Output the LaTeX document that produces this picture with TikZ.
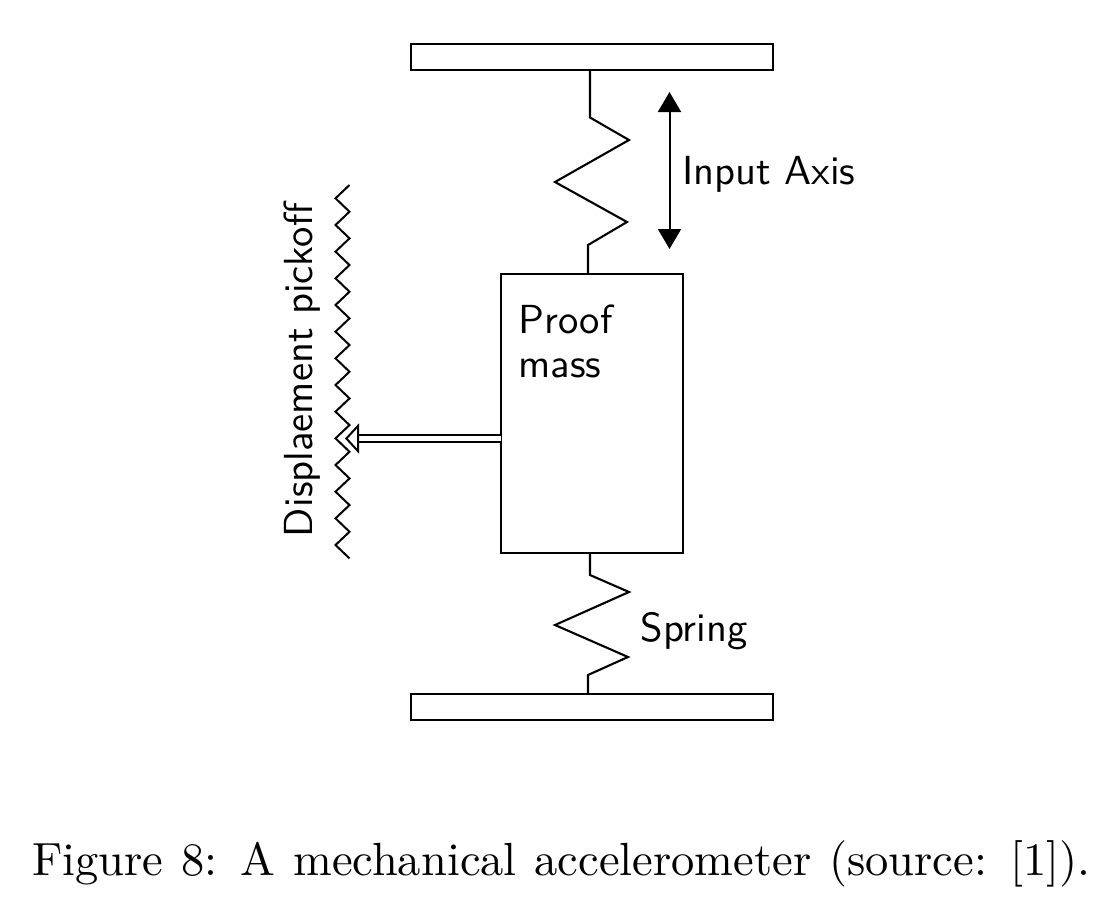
\documentclass[tikz,border=0pt]{standalone}
\usetikzlibrary{arrows.meta}
\tikzset{
  every picture/.style={x=1pt,y=-1pt},
  wire/.style={line width=2.1pt,line join=miter,black},
  plate/.style={draw,line width=2.1pt,inner sep=0pt,outer sep=0pt,minimum width=362pt,minimum height=25.6pt},
  massbox/.style={draw,line width=2.1pt,inner sep=0pt,outer sep=0pt,minimum width=182pt,minimum height=279pt},
  sflabel/.style={inner sep=0pt,outer sep=0pt,scale=4.06,font=\sffamily\fontsize{10}{12}\selectfont},
  captionlabel/.style={inner sep=0pt,outer sep=0pt,scale=4.65,font=\rmfamily\fontsize{10}{12}\selectfont},
  axisarrow/.style={line width=2pt,{Triangle[length=20pt,width=23pt]}-{Triangle[length=20pt,width=23pt]}},
  pickarrow/.style={line width=2pt,double,double distance=4.6pt,-{Triangle[open,length=14pt,width=30pt,line width=2pt]}}
}
\begin{document}
\begin{tikzpicture}
\useasboundingbox (0,0) rectangle (1120,914);
\node[plate] (topplate) at (592,57.2) {};
\node[plate] (botplate) at (592,706.8) {};
\node[massbox] (mass) at (592,413.5) {};
% springs
\draw[wire] ([xshift=-2pt]topplate.south) -- (590,117.5) -- (629,140) -- (555,182) -- (627,222) -- (588,245) -- ([xshift=-4pt]mass.north);
\draw[wire] ([xshift=-2pt]mass.south) -- (590,575) -- (629,592) -- (555,625) -- (628,657) -- (588,675) -- ([xshift=-4pt]botplate.north);
% input axis arrow
\coordinate (axtop) at (669.5,92);
\coordinate (axbot) at (669.5,249);
\draw[axisarrow] (axtop) -- (axbot);
% pickoff zigzag
\coordinate (zigstart) at (349.5,185);
\draw[wire,line width=2pt] (zigstart)
  \foreach \k in {0,...,13} {
    -- (335.5,{198.3+26.67*\k}) -- (349.5,{211.7+26.67*\k})
  };
% pickoff arrow
\coordinate (picktip) at (345,438.5);
\draw[pickarrow] (mass.west |- picktip) -- (picktip);
% labels
\node[sflabel,anchor=base west] (lblinput) at (682,184) {Input Axis};
\node[sflabel,anchor=base west] (lblproof) at (518.5,333) {Proof};
\node[sflabel,anchor=base west] (lblmass) at (518.5,377) {mass};
\node[sflabel,anchor=base west] (lblspring) at (640.5,641) {Spring};
\node[sflabel,anchor=base west,rotate=90] (lblpick) at (312,537) {Displaement pickoff};
\node[captionlabel,anchor=base west] (caption) at (32,875) {\spaceskip=3.85pt\xspaceskip=5pt Figure 8: A mechanical accelerometer (source: [1]).};
\end{tikzpicture}
\end{document}
